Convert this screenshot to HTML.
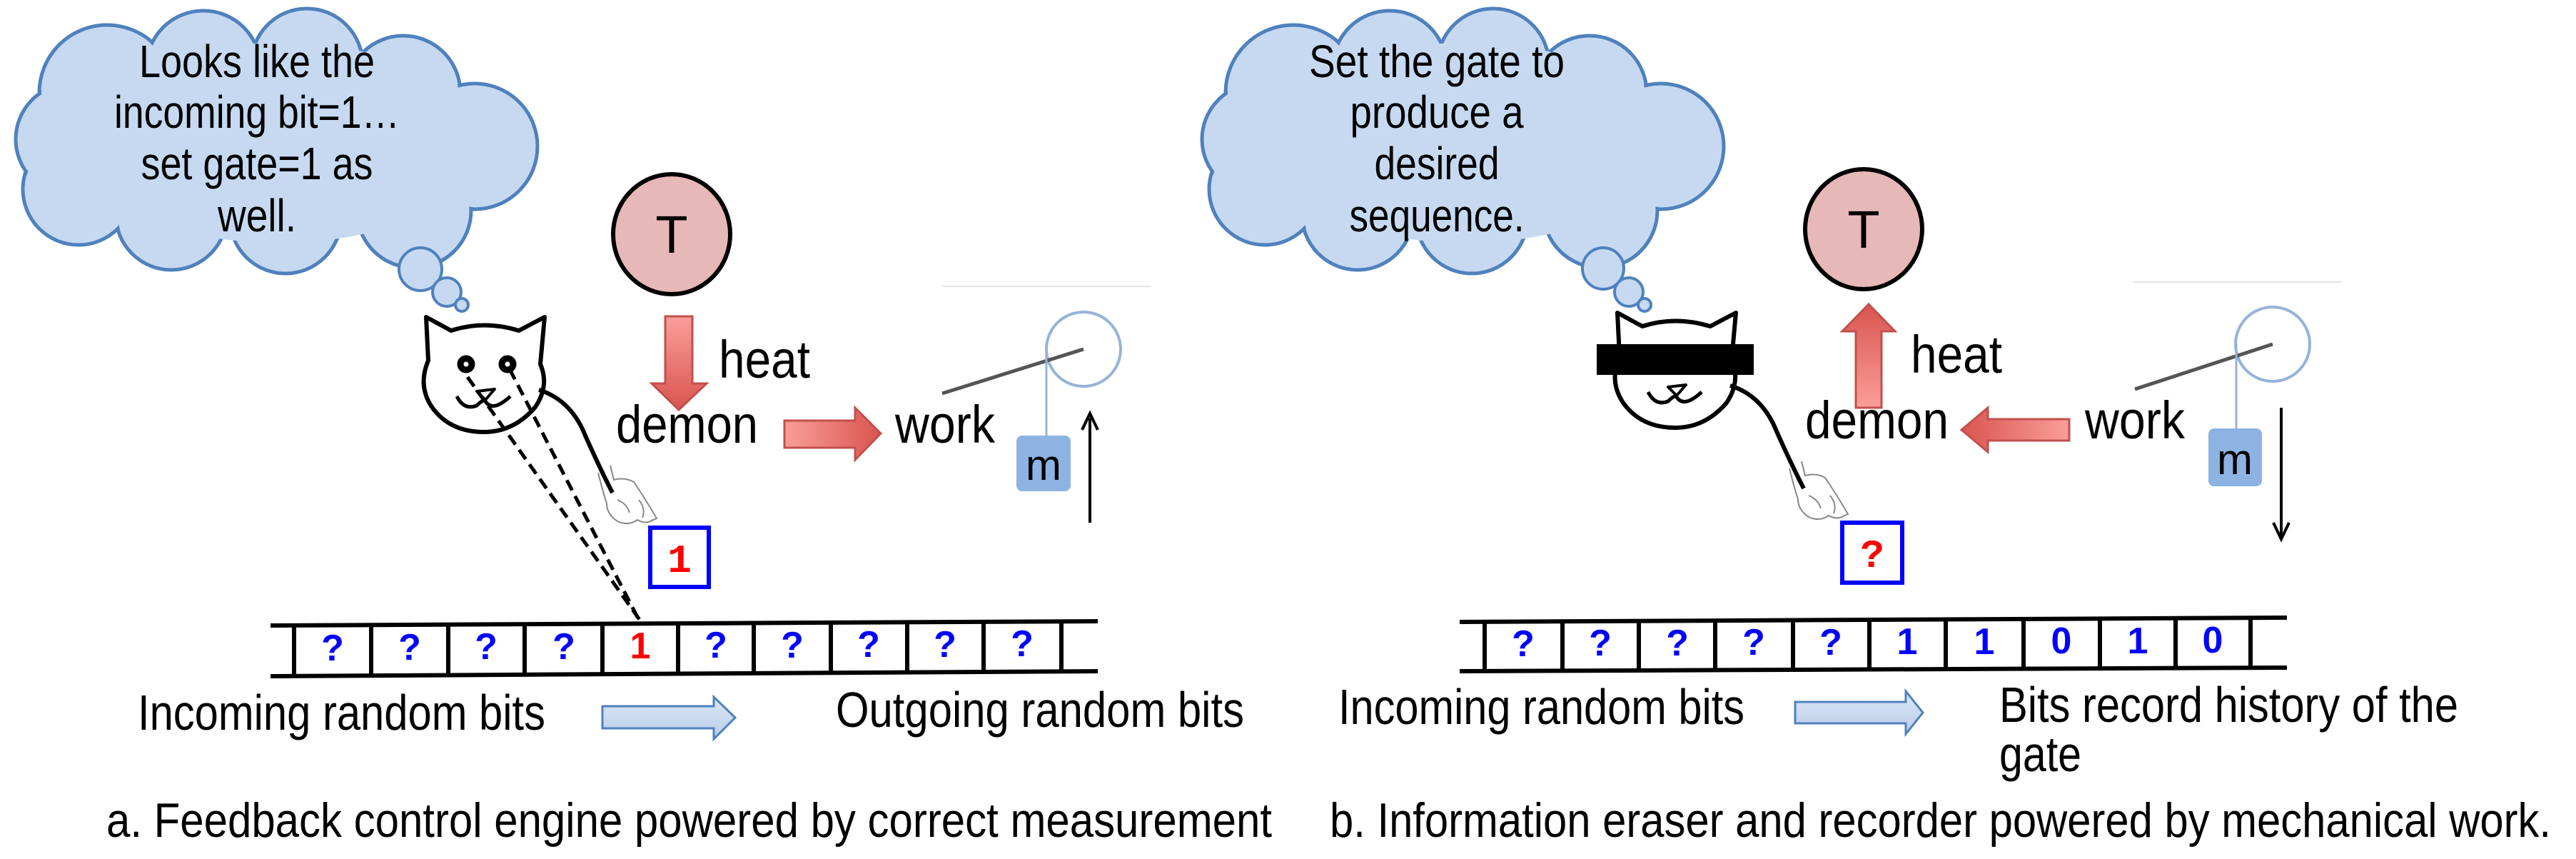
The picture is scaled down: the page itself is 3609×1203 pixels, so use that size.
<!DOCTYPE html>
<html><head><meta charset="utf-8"><style>
html,body{margin:0;padding:0;background:#fff;}
svg{display:block;}
text{font-family:"Liberation Sans",sans-serif;}
.m{font-family:"Liberation Mono",monospace;font-weight:bold;}
</style></head><body>
<svg width="3609" height="1203" viewBox="0 0 3609 1203" xmlns="http://www.w3.org/2000/svg">
<defs>
<linearGradient id="gd" x1="0" y1="0" x2="0" y2="1"><stop offset="0" stop-color="#fa9e9a"/><stop offset="1" stop-color="#d9544f"/></linearGradient>
<linearGradient id="gu" x1="0" y1="1" x2="0" y2="0"><stop offset="0" stop-color="#fa9e9a"/><stop offset="1" stop-color="#d9544f"/></linearGradient>
<linearGradient id="gr" x1="0" y1="0" x2="1" y2="0"><stop offset="0" stop-color="#fa9e9a"/><stop offset="1" stop-color="#d9544f"/></linearGradient>
<linearGradient id="gl" x1="1" y1="0" x2="0" y2="0"><stop offset="0" stop-color="#fa9e9a"/><stop offset="1" stop-color="#d9544f"/></linearGradient>
<linearGradient id="gb" x1="0" y1="0" x2="0" y2="1"><stop offset="0" stop-color="#dbe6f5"/><stop offset="1" stop-color="#b9cde9"/></linearGradient>
<g id="cloud">
 <g fill="#c6d9f1" stroke="#4f81bd" stroke-width="5">
  <circle cx="150" cy="130" r="95"/><circle cx="285" cy="95" r="80"/><circle cx="430" cy="90" r="78"/>
  <circle cx="565" cy="130" r="80"/><circle cx="665" cy="205" r="88"/><circle cx="580" cy="295" r="80"/>
  <circle cx="400" cy="305" r="78"/><circle cx="240" cy="300" r="78"/><circle cx="110" cy="265" r="78"/><circle cx="100" cy="195" r="78"/>
 </g>
 <g fill="#c6d9f1">
  <circle cx="150" cy="130" r="92"/><circle cx="285" cy="95" r="77"/><circle cx="430" cy="90" r="75"/>
  <circle cx="565" cy="130" r="77"/><circle cx="665" cy="205" r="85"/><circle cx="580" cy="295" r="77"/>
  <circle cx="400" cy="305" r="75"/><circle cx="240" cy="300" r="75"/><circle cx="110" cy="265" r="75"/><circle cx="100" cy="195" r="75"/>
  <ellipse cx="390" cy="200" rx="290" ry="140"/>
 </g>
</g>
<g id="cat" fill="none" stroke="#000" stroke-width="6" stroke-linejoin="round">
 <path d="M597,444 L632,463 Q678,448 727,463 L763,444 L757,510 Q770,540 750,570 Q720,605 678,605 Q630,605 605,570 Q585,540 600,505 Z"/>
 <path d="M640,555 Q650,575 668,568 Q678,558 680,562 Q690,578 715,555" stroke-width="5"/>
 <path d="M668,548 L693,545 L680,560 Z" stroke-width="4"/>
 <path d="M755,546 Q800,560 820,610 Q840,655 858,690"/>
</g>
<g id="hand" fill="none" stroke="#888" stroke-width="2">
 <path d="M838,662 Q845,690 850,705 Q850,720 865,730 Q880,737 893,728 Q905,735 915,728 L920,726 Q905,700 888,675 Q875,668 860,672 L855,652"/>
 <path d="M865,700 Q878,705 882,718 M895,700 Q905,712 900,725"/>
</g>
</defs>

<!-- LEFT PANEL -->
<use href="#cloud"/>
<g font-size="64" text-anchor="middle" fill="#000">
<text x="360" y="108" textLength="330" lengthAdjust="spacingAndGlyphs">Looks like the</text>
<text x="360" y="179" textLength="400" lengthAdjust="spacingAndGlyphs">incoming bit=1…</text>
<text x="360" y="251" textLength="325" lengthAdjust="spacingAndGlyphs">set gate=1 as</text>
<text x="360" y="324" textLength="110" lengthAdjust="spacingAndGlyphs">well.</text>
</g>
<g fill="#c6d9f1" stroke="#4f81bd" stroke-width="4">
<circle cx="589" cy="377" r="30"/><circle cx="626" cy="409" r="20"/><circle cx="647" cy="427" r="9"/>
</g>
<ellipse cx="941" cy="328" rx="82" ry="84" fill="#e6b8b7" stroke="#000" stroke-width="6"/>
<text x="941" y="354" font-size="74" text-anchor="middle">T</text>
<polygon points="932,443 970,443 970,537 990,537 951,574 913,537 932,537" fill="url(#gd)" stroke="#c0504d" stroke-width="3"/>
<text x="1007" y="529" font-size="74" textLength="128" lengthAdjust="spacingAndGlyphs">heat</text>
<text x="863" y="620" font-size="74" textLength="199" lengthAdjust="spacingAndGlyphs">demon</text>
<polygon points="1099,589 1198,589 1198,571 1234,607 1198,644 1198,627 1099,627" fill="url(#gr)" stroke="#c0504d" stroke-width="3"/>
<text x="1254" y="620" font-size="74" textLength="140" lengthAdjust="spacingAndGlyphs">work</text>
<line x1="1320" y1="401" x2="1613" y2="401" stroke="#e4e4e4" stroke-width="2"/>
<circle cx="1518" cy="489" r="52" fill="none" stroke="#95b3d7" stroke-width="4"/>
<line x1="1320" y1="551" x2="1518" y2="489" stroke="#555" stroke-width="5"/>
<line x1="1466" y1="485" x2="1466" y2="612" stroke="#95b3d7" stroke-width="3"/>
<rect x="1424" y="610" width="76" height="78" rx="8" fill="#8db3e2"/>
<text x="1462" y="672" font-size="60" text-anchor="middle">m</text>
<line x1="1527" y1="732" x2="1527" y2="585" stroke="#000" stroke-width="4"/>
<path d="M1516,602 L1527,579 L1538,602" fill="none" stroke="#000" stroke-width="4"/>
<use href="#cat"/>
<circle cx="653" cy="510" r="8" fill="none" stroke="#000" stroke-width="9"/>
<circle cx="711" cy="510" r="8" fill="none" stroke="#000" stroke-width="9"/>
<g stroke="#000" stroke-width="5" stroke-dasharray="16,9">
<line x1="655" y1="528" x2="899" y2="872"/>
<line x1="714" y1="517" x2="895" y2="868"/>
</g>
<use href="#hand"/>
<rect x="911" y="739" width="82" height="83" fill="#fff" stroke="#0000ff" stroke-width="6"/>
<text x="952" y="801" class="m" font-size="56" text-anchor="middle" fill="#ff0000">1</text>
<g stroke="#000" stroke-width="6">
<line x1="379" y1="876" x2="1538" y2="870"/>
<line x1="379" y1="947" x2="1538" y2="940"/>
<line x1="412" y1="876" x2="412" y2="946"/><line x1="520" y1="876" x2="520" y2="946"/><line x1="628" y1="875" x2="628" y2="945"/>
<line x1="735" y1="874" x2="735" y2="944"/><line x1="844" y1="874" x2="844" y2="944"/><line x1="950" y1="873" x2="950" y2="943"/>
<line x1="1056" y1="873" x2="1056" y2="942"/><line x1="1164" y1="872" x2="1164" y2="942"/><line x1="1271" y1="872" x2="1271" y2="941"/>
<line x1="1378" y1="871" x2="1378" y2="940"/><line x1="1487" y1="870" x2="1487" y2="940"/>
</g>
<g class="m" font-size="52" text-anchor="middle" fill="#0000ff">
<text x="466" y="925">?</text><text x="574" y="924">?</text><text x="681" y="923">?</text><text x="790" y="923">?</text>
<text x="897" y="922" fill="#ff0000">1</text><text x="1003" y="921">?</text><text x="1110" y="921">?</text><text x="1217" y="920">?</text><text x="1324" y="920">?</text><text x="1432" y="919">?</text>
</g>
<text x="193" y="1022" font-size="70" textLength="571" lengthAdjust="spacingAndGlyphs">Incoming random bits</text>
<polygon points="844,989 1000,989 1000,976 1030,1005 1000,1035 1000,1020 844,1020" fill="url(#gb)" stroke="#4f81bd" stroke-width="3"/>
<text x="1171" y="1018" font-size="70" textLength="572" lengthAdjust="spacingAndGlyphs">Outgoing random bits</text>
<text x="149" y="1172" font-size="68" textLength="1633" lengthAdjust="spacingAndGlyphs">a. Feedback control engine powered by correct measurement</text>

<!-- RIGHT PANEL -->
<g transform="translate(1662,0)"><use href="#cloud"/></g>
<g font-size="64" text-anchor="middle" fill="#000">
<text x="2013" y="108" textLength="358" lengthAdjust="spacingAndGlyphs">Set the gate to</text>
<text x="2013" y="179" textLength="243" lengthAdjust="spacingAndGlyphs">produce  a</text>
<text x="2013" y="251" textLength="175" lengthAdjust="spacingAndGlyphs">desired</text>
<text x="2013" y="324" textLength="245" lengthAdjust="spacingAndGlyphs">sequence.</text>
</g>
<g fill="#c6d9f1" stroke="#4f81bd" stroke-width="4">
<circle cx="2246" cy="376" r="29"/><circle cx="2282" cy="409" r="20"/><circle cx="2304" cy="427" r="9"/>
</g>
<ellipse cx="2611" cy="321" rx="82" ry="84" fill="#e6b8b7" stroke="#000" stroke-width="6"/>
<text x="2611" y="347" font-size="74" text-anchor="middle">T</text>
<polygon points="2600,571 2636,571 2636,464 2655,464 2618,426 2581,464 2600,464" fill="url(#gu)" stroke="#c0504d" stroke-width="3"/>
<text x="2677" y="522" font-size="74" textLength="128" lengthAdjust="spacingAndGlyphs">heat</text>
<text x="2529" y="614" font-size="74" textLength="201" lengthAdjust="spacingAndGlyphs">demon</text>
<polygon points="2899,587 2785,587 2785,571 2748,602 2785,633 2785,617 2899,617" fill="url(#gl)" stroke="#c0504d" stroke-width="3"/>
<text x="2921" y="614" font-size="74" textLength="140" lengthAdjust="spacingAndGlyphs">work</text>
<line x1="2988" y1="395" x2="3280" y2="395" stroke="#e4e4e4" stroke-width="2"/>
<circle cx="3184" cy="482" r="52" fill="none" stroke="#95b3d7" stroke-width="4"/>
<line x1="2991" y1="545" x2="3184" y2="482" stroke="#555" stroke-width="5"/>
<line x1="3133" y1="480" x2="3133" y2="602" stroke="#95b3d7" stroke-width="3"/>
<rect x="3094" y="600" width="75" height="81" rx="8" fill="#8db3e2"/>
<text x="3131" y="664" font-size="60" text-anchor="middle">m</text>
<line x1="3196" y1="571" x2="3196" y2="750" stroke="#000" stroke-width="4"/>
<path d="M3185,732 L3196,755 L3207,732" fill="none" stroke="#000" stroke-width="4"/>
<g transform="translate(1669,-6)"><use href="#cat"/><use href="#hand"/></g>
<rect x="2237" y="482" width="220" height="43" fill="#000"/>
<rect x="2581" y="732" width="84" height="84" fill="#fff" stroke="#0000ff" stroke-width="6"/>
<text x="2623" y="794" class="m" font-size="56" text-anchor="middle" fill="#ff0000">?</text>
<g stroke="#000" stroke-width="6">
<line x1="2045" y1="871" x2="3204" y2="865"/>
<line x1="2045" y1="940" x2="3204" y2="935"/>
<line x1="2080" y1="871" x2="2080" y2="939"/><line x1="2189" y1="870" x2="2189" y2="938"/><line x1="2296" y1="870" x2="2296" y2="938"/>
<line x1="2403" y1="869" x2="2403" y2="937"/><line x1="2512" y1="869" x2="2512" y2="937"/><line x1="2619" y1="868" x2="2619" y2="936"/>
<line x1="2726" y1="868" x2="2726" y2="936"/><line x1="2835" y1="867" x2="2835" y2="935"/><line x1="2942" y1="867" x2="2942" y2="935"/>
<line x1="3048" y1="866" x2="3048" y2="934"/><line x1="3153" y1="866" x2="3153" y2="934"/>
</g>
<g class="m" font-size="52" text-anchor="middle" fill="#0000ff">
<text x="2134" y="919">?</text><text x="2242" y="918">?</text><text x="2350" y="918">?</text><text x="2457" y="917">?</text><text x="2565" y="917">?</text>
<text x="2672" y="916">1</text><text x="2780" y="916">1</text><text x="2888" y="915">0</text><text x="2995" y="915">1</text><text x="3100" y="914">0</text>
</g>
<text x="1875" y="1014" font-size="70" textLength="569" lengthAdjust="spacingAndGlyphs">Incoming random bits</text>
<polygon points="2515,983 2670,983 2670,968 2694,998 2670,1028 2670,1013 2515,1013" fill="url(#gb)" stroke="#4f81bd" stroke-width="3"/>
<text x="2801" y="1011" font-size="70" textLength="643" lengthAdjust="spacingAndGlyphs">Bits record history of the</text>
<text x="2801" y="1080" font-size="70" textLength="115" lengthAdjust="spacingAndGlyphs">gate</text>
<text x="1863" y="1172" font-size="68" textLength="1711" lengthAdjust="spacingAndGlyphs">b. Information eraser and recorder powered by mechanical work.</text>
</svg>
</body></html>
